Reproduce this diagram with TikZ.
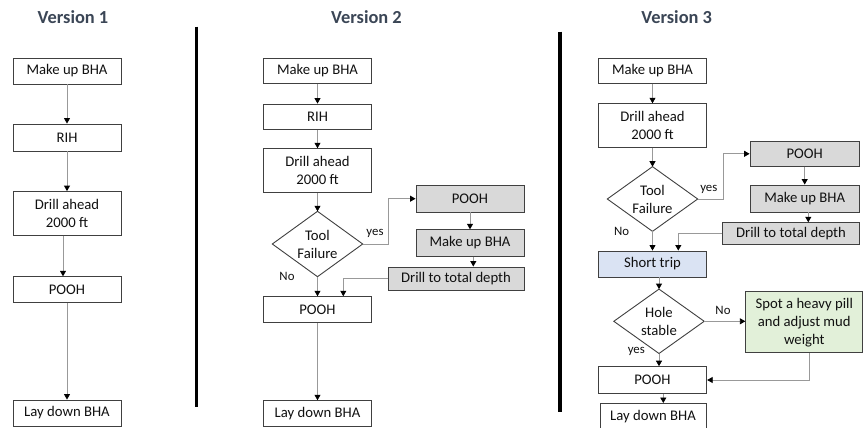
\documentclass[tikz,border=0pt]{standalone}
\usepackage{fontspec}
\setmainfont{Carlito}
\usetikzlibrary{arrows.meta,calc}
\definecolor{titlec}{HTML}{3B4656}
\definecolor{boxc}{HTML}{404040}
\definecolor{linec}{HTML}{999999}
\definecolor{txtc}{HTML}{111111}
\definecolor{greyf}{HTML}{D9D9D9}
\definecolor{bluef}{HTML}{DAE3F3}
\definecolor{greenf}{HTML}{E2F0D9}
\newcommand{\boxfont}{\fontsize{14.7}{18}\selectfont}
\newcommand{\labfont}{\fontsize{12.8}{15}\selectfont}
\newcommand{\titfont}{\fontsize{18.4}{22}\selectfont\bfseries}
\begin{document}
\begin{tikzpicture}[x=1pt,y=-1pt,
  box/.style={draw=boxc, line width=0.9pt, fill=white, inner sep=0pt, align=center, font=\boxfont, text=txtc},
  sz/.style 2 args={minimum width=#1pt, minimum height=#2pt},
  dia/.style={inner sep=0pt, minimum width=90pt, minimum height=65pt, align=center, font=\boxfont, text=txtc},
  dline/.style={draw=boxc, line width=0.9pt},
  conn/.style={draw=linec, line width=0.8pt, -{Triangle[length=5.5pt,width=6pt,color=black]}},
  lab/.style={font=\labfont, text=txtc, inner sep=0pt},
  title/.style={font=\titfont, text=titlec, inner sep=0pt},
  bar/.style={line width=3.5pt, black}]
\useasboundingbox (0,0) rectangle (863,428);
\fill[white] (0,0) rectangle (863,428);

% titles
\node[title] (t1) at (73,17) {Version 1};
\node[title] (t2) at (366.5,17) {Version 2};
\node[title] (t3) at (676.7,17) {Version 3};

% separators
\draw[bar] (196.5,26.7) -- (196.5,406.7);
\draw[bar] (560,31.7) -- (560,411.7);

% ---------- Version 1
\node[box,sz={108}{26}] (mu1) at (67,71) {Make up BHA};
\node[box,sz={108}{27}] (rih1) at (67,137.5) {RIH};
\node[box,sz={108}{43.5}] (da1) at (67,213.3) {Drill ahead\\2000 ft};
\node[box,sz={108}{25.5}] (pooh1) at (67,289.5) {POOH};
\node[box,sz={108}{26}] (ld1) at (67,413) {Lay down BHA};
\draw[conn] (mu1) -- (rih1);
\draw[conn] (rih1) -- (da1);
\draw[conn] ([xshift=-4pt]da1.south) -- ([xshift=-4pt]pooh1.north);
\draw[conn] (pooh1) -- (ld1);

% ---------- Version 2
\node[box,sz={108.4}{25}] (mu2) at (317.5,70.8) {Make up BHA};
\node[box,sz={108.4}{25.3}] (rih2) at (317.5,116.7) {RIH};
\node[box,sz={108.4}{43.6}] (da2) at (317.5,170.5) {Drill ahead\\2000 ft};
\node[dia] (tf2) at (317.5,244) {Tool\\Failure};
\draw[dline] (tf2.north) -- (tf2.east) -- (tf2.south) -- (tf2.west) -- cycle;
\node[box,fill=greyf,sz={108}{26.5}] (pg2) at (470,198.7) {POOH};
\node[box,fill=greyf,sz={108}{26.5}] (mg2) at (470,243) {Make up BHA};
\node[box,fill=greyf,sz={136}{23}] (dt2) at (456,278.5) {Drill to total depth};
\node[box,sz={108.4}{25.6}] (po2) at (317.5,309.5) {POOH};
\node[box,sz={108.4}{26}] (ld2) at (317.5,413.7) {Lay down BHA};
\draw[conn] (mu2) -- (rih2);
\draw[conn] (rih2) -- (da2);
\draw[conn] (da2) -- (tf2.north);
\draw[conn] (tf2.east) -- ++(25.7,0) |- (pg2.west);
\draw[conn] (pg2) -- (mg2);
\draw[conn] ([xshift=3.3pt]mg2.south) -- ([xshift=3.3pt]mg2.south |- dt2.north);
\draw[conn] (dt2.west) -| ([xshift=25.8pt]po2.north);
\draw[conn] (tf2.south) -- (po2.north);
\draw[conn] (po2) -- (ld2);
\node[lab] (y2) at (375,233.3) {yes};
\node[lab] (n2) at (287,276.7) {No};

% ---------- Version 3
\node[box,sz={108.4}{25}] (mu3) at (652.5,70.8) {Make up BHA};
\node[box,sz={108.4}{43.5}] (da3) at (652.5,125.5) {Drill ahead\\2000 ft};
\node[dia,minimum height=64.3pt] (tf3) at (652.5,199) {Tool\\Failure};
\draw[dline] (tf3.north) -- (tf3.east) -- (tf3.south) -- (tf3.west) -- cycle;
\node[box,fill=greyf,sz={109.3}{24.5}] (pg3) at (804.7,153.8) {POOH};
\node[box,fill=greyf,sz={109.3}{27}] (mg3) at (804.7,198.5) {Make up BHA};
\node[box,fill=greyf,sz={136.6}{21.5}] (dt3) at (791,233.5) {Drill to total depth};
\node[box,fill=bluef,sz={108.4}{26}] (st3) at (652.5,264) {Short trip};
\node[dia,minimum height=64pt] (hs3) at (659,321.3) {Hole\\stable};
\draw[dline] (hs3.north) -- (hs3.east) -- (hs3.south) -- (hs3.west) -- cycle;
\node[box,fill=greenf,sz={117}{61}] (gr3) at (804.3,322.2) {Spot a heavy pill\\and adjust mud\\weight};
\node[box,sz={108.4}{26.7}] (po3) at (652.5,380) {POOH};
\node[box,sz={106}{26}] (ld3) at (653,416.5) {Lay down BHA};
\draw[conn] (mu3) -- (da3);
\draw[conn] (da3) -- (tf3.north);
\draw[conn] (tf3.east) -- ++(25.4,0) |- (pg3.west);
\draw[conn] (pg3) -- (mg3);
\draw[conn] ([xshift=3.6pt]mg3.south) -- ([xshift=3.6pt]mg3.south |- dt3.north);
\draw[conn] (dt3.west) -| ([xshift=25.8pt]st3.north);
\draw[conn] (tf3.south) -- (st3.north);
\draw[conn] (hs3.north |- st3.south) -- (hs3.north);
\draw[conn] (hs3.east) -- (hs3.east -| gr3.west);
\draw[conn] (hs3.south) -- (hs3.south |- po3.north);
\draw[conn] ([xshift=5pt]gr3.south) |- (po3.east);
\draw[conn] ([xshift=10.8pt]po3.south) -- ([xshift=10.8pt]po3.south |- ld3.north);
\node[lab] (y3) at (708.8,189.3) {yes};
\node[lab] (n3) at (621.7,231.7) {No};
\node[lab] (n3b) at (723,310.7) {No};
\node[lab] (y3b) at (636.3,351) {yes};
\end{tikzpicture}
\end{document}
